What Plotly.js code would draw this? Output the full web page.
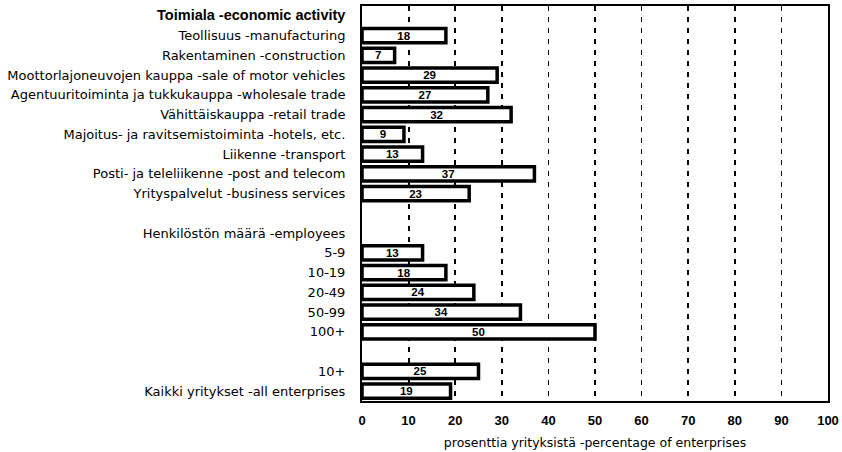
<!DOCTYPE html>
<html>
<head>
<meta charset="utf-8">
<script src="https://cdn.plot.ly/plotly-3.0.1.min.js"></script>
<style>html,body{margin:0;padding:0;background:#fff;}#chart{width:842px;height:452px;}</style>
</head>
<body>
<div id="chart"></div>
<script>
// Row labels (top to bottom); blank rows are spacers
const categories = [
  "Toimiala -economic activity",
  "Teollisuus -manufacturing",
  "Rakentaminen -construction",
  "Moottorlajoneuvojen kauppa -sale of motor vehicles",
  "Agentuuritoiminta ja tukkukauppa -wholesale trade",
  "Vähittäiskauppa -retail trade",
  "Majoitus- ja ravitsemistoiminta -hotels, etc.",
  "Liikenne -transport",
  "Posti- ja teleliikenne -post and telecom",
  "Yrityspalvelut -business services",
  " ",
  "Henkilöstön määrä -employees",
  "5-9",
  "10-19",
  "20-49",
  "50-99",
  "100+",
  "  ",
  "10+",
  "Kaikki yritykset -all enterprises"
];
const values = [null, 18, 7, 29, 27, 32, 9, 13, 37, 23, null, null, 13, 18, 24, 34, 50, null, 25, 19];
const xTicks = [0, 10, 20, 30, 40, 50, 60, 70, 80, 90, 100];
const xTitle = "prosenttia yrityksistä -percentage of enterprises";
const headerRows = ["Toimiala -economic activity"];

const tickText = categories.map(c => headerRows.includes(c)
  ? "<span style=\"font-family:'Liberation Sans';font-size:14.5px\"><b>" + c + "</b></span>"
  : "<span style=\"font-family:'DejaVu Sans';font-size:13px\">" + c + "</span>");

const trace = {
  type: "bar",
  orientation: "h",
  y: categories,
  x: values,
  width: 0.72,
  marker: { color: "#ffffff", line: { color: "#000000", width: 3.5 } },
  text: values.map(v => v === null ? "" : String(v)),
  textposition: "inside",
  insidetextanchor: "middle",
  textangle: 0,
  constraintext: "none",
  textfont: { family: "Liberation Sans, Arial, sans-serif", size: 11.5, color: "#000", weight: "bold" },
  hoverinfo: "none"
};

const layout = {
  width: 842, height: 452,
  margin: { l: 362, r: 14, t: 6, b: 51 },
  paper_bgcolor: "#fff", plot_bgcolor: "#fff",
  showlegend: false,
  font: { family: "DejaVu Sans, sans-serif", color: "#000" },
  xaxis: {
    range: [0, 100],
    tickvals: xTicks,
    ticktext: xTicks.map(String),
    tickfont: { family: "Liberation Sans, Arial, sans-serif", size: 13, weight: "bold" },
    showgrid: true, gridcolor: "#000", gridwidth: 1.8, griddash: "5px,6px",
    zeroline: false,
    showline: true, linecolor: "#000", linewidth: 2, mirror: true,
    ticks: "", ticklabelstandoff: 6,
    title: { text: xTitle, font: { family: "DejaVu Sans, sans-serif", size: 12.5 }, standoff: 12 }
  },
  yaxis: {
    type: "category",
    categoryorder: "array", categoryarray: categories,
    tickvals: categories, ticktext: tickText,
    range: [19.5, -0.5],
    showgrid: false, zeroline: false,
    showline: true, linecolor: "#000", linewidth: 2, mirror: true,
    ticks: "", ticklabelstandoff: 12,
    tickfont: { family: "DejaVu Sans, sans-serif", size: 13 }
  }
};

Plotly.newPlot("chart", [trace], layout, { staticPlot: true, displayModeBar: false });
</script>
</body>
</html>
